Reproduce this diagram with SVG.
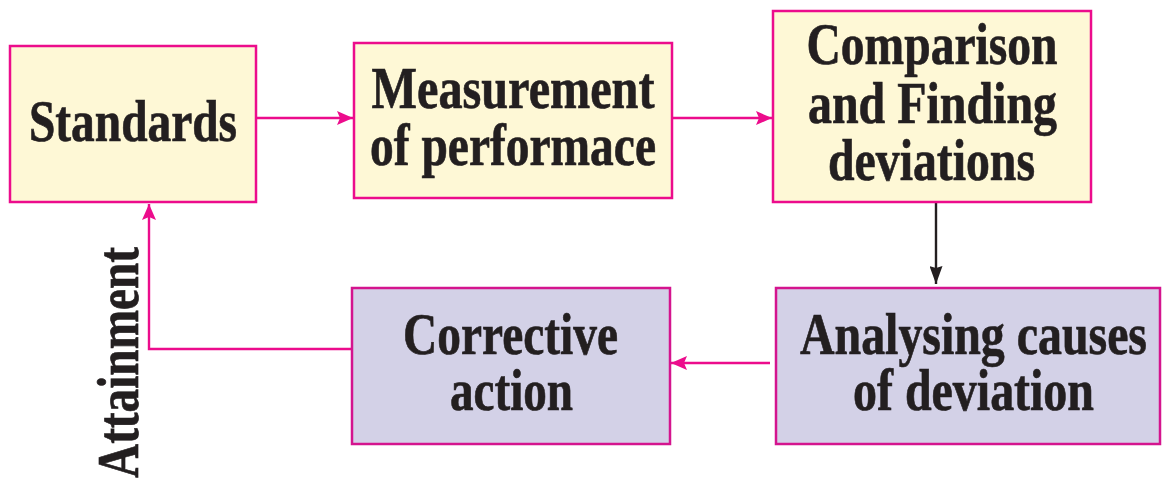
<svg xmlns="http://www.w3.org/2000/svg" width="1162" height="480" viewBox="0 0 1162 480">
<style>
.yel{fill:#FEF8D6;stroke:#EC0C8C;stroke-width:2.5}
.pur{fill:#D3D1E7;stroke:#D4148E;stroke-width:2.5}
.t{font-family:"Liberation Serif","Times New Roman",serif;font-weight:bold;font-size:60px;fill:#231F20;stroke:#231F20;stroke-width:0.7;text-anchor:middle}
.pk{stroke:#EC0C8C;stroke-width:2.4;fill:none}
.bk{stroke:#231F20;stroke-width:2.4;fill:none}
</style>
<defs>
<marker id="ap" viewBox="0 0 16 14" refX="16" refY="7" markerWidth="16" markerHeight="14" markerUnits="userSpaceOnUse" orient="auto">
<path d="M0,0 L16,7 L0,14 L3,7 Z" fill="#EC0C8C"/>
</marker>
<marker id="ab" viewBox="0 0 18 13" refX="18" refY="6.5" markerWidth="18" markerHeight="13" markerUnits="userSpaceOnUse" orient="auto">
<path d="M0,0 L18,6.5 L0,13 L2,6.5 Z" fill="#231F20"/>
</marker>
</defs>
<g id="connectors">
<line class="pk" x1="256" y1="118" x2="353" y2="118" marker-end="url(#ap)"/>
<line class="pk" x1="672" y1="118" x2="772" y2="118" marker-end="url(#ap)"/>
<line class="bk" x1="936" y1="202" x2="936" y2="284" marker-end="url(#ab)"/>
<line class="pk" x1="770" y1="363" x2="671" y2="363" marker-end="url(#ap)"/>
<polyline class="pk" points="352,349 149,349 149,204" marker-end="url(#ap)"/>
</g>
<g id="standards">
<rect class="yel" x="10" y="46" width="246" height="156"/>
<text class="t" x="133" y="141" textLength="208" lengthAdjust="spacingAndGlyphs">Standards</text>
</g>
<g id="measurement">
<rect class="yel" x="354" y="43" width="318" height="155"/>
<text class="t" x="513" y="108" textLength="283" lengthAdjust="spacingAndGlyphs">Measurement</text>
<text class="t" x="513" y="165" textLength="286" lengthAdjust="spacingAndGlyphs">of performace</text>
</g>
<g id="comparison">
<rect class="yel" x="773" y="11" width="318" height="191"/>
<text class="t" x="932" y="64" textLength="251" lengthAdjust="spacingAndGlyphs">Comparison</text>
<text class="t" x="932.5" y="122.5" textLength="249" lengthAdjust="spacingAndGlyphs">and Finding</text>
<text class="t" x="931.5" y="180" textLength="207" lengthAdjust="spacingAndGlyphs">deviations</text>
</g>
<g id="analysing">
<rect class="pur" x="776" y="288" width="384" height="156"/>
<text class="t" x="973.5" y="354" textLength="347" lengthAdjust="spacingAndGlyphs">Analysing causes</text>
<text class="t" x="973.5" y="410" textLength="241" lengthAdjust="spacingAndGlyphs">of deviation</text>
</g>
<g id="corrective">
<rect class="pur" x="352" y="288" width="318" height="156"/>
<text class="t" x="510.5" y="354" textLength="215" lengthAdjust="spacingAndGlyphs">Corrective</text>
<text class="t" x="511.5" y="410" textLength="123" lengthAdjust="spacingAndGlyphs">action</text>
</g>
<g id="attainment">
<text class="t" transform="translate(138,362.5) rotate(-90)" x="0" y="0" textLength="231" lengthAdjust="spacingAndGlyphs">Attainment</text>
</g>
</svg>
